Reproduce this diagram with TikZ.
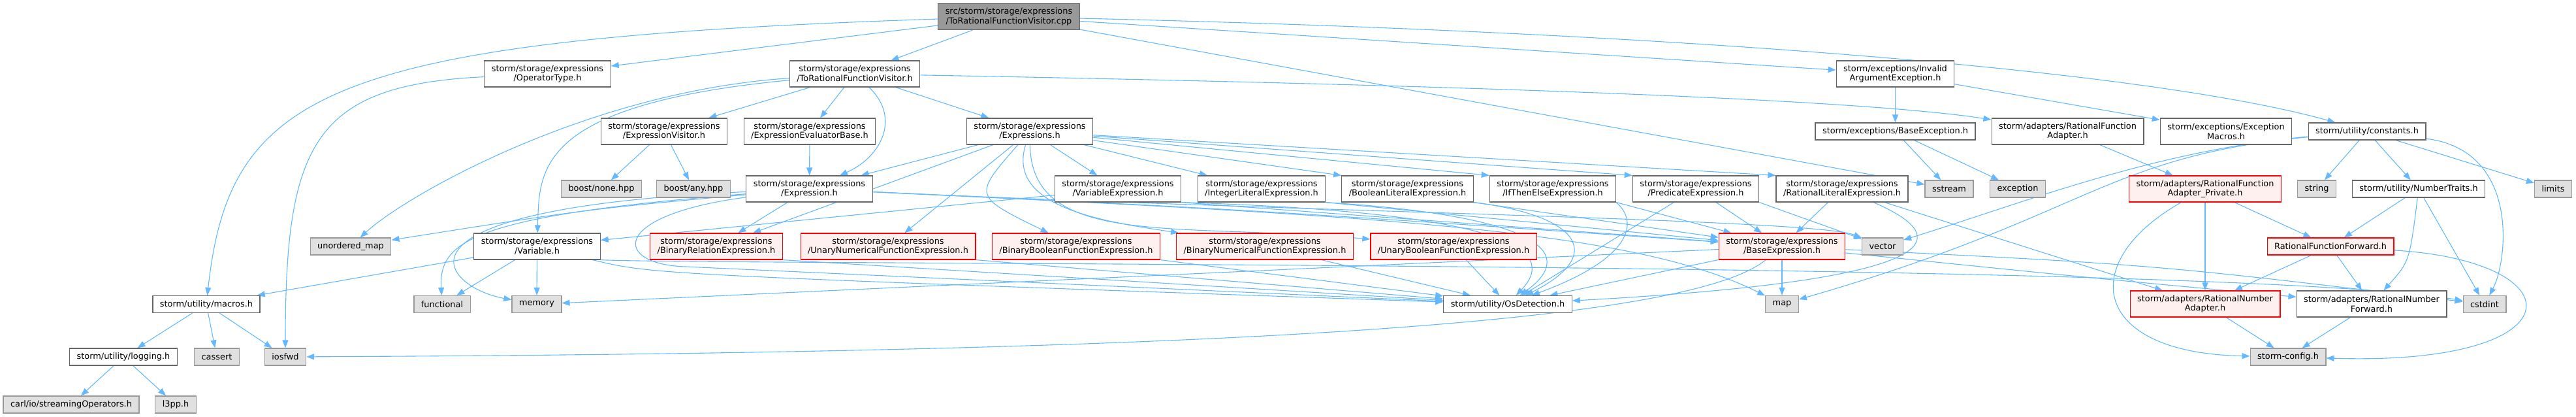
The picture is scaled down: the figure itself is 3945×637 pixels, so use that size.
\documentclass[tikz,border=0pt]{standalone}
\usepackage{fontspec}
\newfontfamily\dvs{DejaVu Sans}
\usepackage{xcolor}
\usetikzlibrary{arrows.meta, backgrounds}
\definecolor{edgeblue}{HTML}{63B8FF}
\definecolor{hdrline}{HTML}{666666}
\definecolor{sysfill}{HTML}{E0E0E0}
\definecolor{sysline}{HTML}{999999}
\definecolor{truncfill}{HTML}{FFF0F0}
\definecolor{rootfill}{HTML}{999999}

\begin{document}
\begin{tikzpicture}[x=1pt, y=-1pt,
    hdr/.style={draw=hdrline, fill=white, line width=1.2pt, inner xsep=11pt, inner ysep=0pt,
        minimum height=40pt, align=center, font={\dvs\fontsize{12.9pt}{14.7pt}\selectfont}},
    one/.style={minimum height=26pt},
    sys/.style={hdr, one, draw=sysline, fill=sysfill},
    trunc/.style={hdr, draw=red, fill=truncfill},
    rootfile/.style={hdr, draw=hdrline, fill=rootfill},
    dep/.style={draw=edgeblue, line width=1.1pt, -{Triangle[length=12pt, width=9pt]}}]
    \useasboundingbox (0,0) rectangle (3945,637);

    % source file
    \node[rootfile] (root) at (1545,25.5) {src/storm/storage/expressions\\/ToRationalFunctionVisitor.cpp};

    % first level
    \node[hdr] (opType) at (838.5,113) {storm/storage/expressions\\/OperatorType.h};
    \node[hdr] (rfVisitor) at (1309,113) {storm/storage/expressions\\/ToRationalFunctionVisitor.h};
    \node[hdr] (invArg) at (2902.5,113) {storm/exceptions/Invalid\\ArgumentException.h};

    % second level
    \node[hdr] (exprVisitor) at (1017,201) {storm/storage/expressions\\/ExpressionVisitor.h};
    \node[hdr] (evalBase) at (1240,201) {storm/storage/expressions\\/ExpressionEvaluatorBase.h};
    \node[hdr] (exprs) at (1577,201) {storm/storage/expressions\\/Expressions.h};
    \node[hdr, one] (baseExc) at (2902.5,201) {storm/exceptions/BaseException.h};
    \node[hdr] (rfAdapter) at (3166.5,201) {storm/adapters/RationalFunction\\Adapter.h};
    \node[hdr] (excMacros) at (3409,201) {storm/exceptions/Exception\\Macros.h};
    \node[hdr, one] (constants) at (3625,201) {storm/utility/constants.h};

    % third level
    \node[sys] (boostNone) at (921,289) {boost/none.hpp};
    \node[sys] (boostAny) at (1062,289) {boost/any.hpp};
    \node[hdr] (expr) at (1239.5,289) {storm/storage/expressions\\/Expression.h};
    \node[hdr] (varExpr) at (1712,289) {storm/storage/expressions\\/VariableExpression.h};
    \node[hdr] (intLit) at (1932,289) {storm/storage/expressions\\/IntegerLiteralExpression.h};
    \node[hdr] (boolLit) at (2155.5,289) {storm/storage/expressions\\/BooleanLiteralExpression.h};
    \node[hdr] (iteExpr) at (2378,289) {storm/storage/expressions\\/IfThenElseExpression.h};
    \node[hdr] (predExpr) at (2597,289) {storm/storage/expressions\\/PredicateExpression.h};
    \node[hdr] (ratLit) at (2821,289) {storm/storage/expressions\\/RationalLiteralExpression.h};
    \node[sys] (sstream) at (2985,289) {sstream};
    \node[sys] (exception) at (3090,289) {exception};
    \node[trunc] (rfaPrivate) at (3377,289) {storm/adapters/RationalFunction\\Adapter\_Private.h};
    \node[sys] (string) at (3548,289) {string};
    \node[hdr, one] (numTraits) at (3704,289) {storm/utility/NumberTraits.h};
    \node[sys] (limits) at (3910,289) {limits};

    % fourth level
    \node[sys] (umap) at (537,377) {unordered\_map};
    \node[hdr] (variable) at (822.5,377) {storm/storage/expressions\\/Variable.h};
    \node[trunc] (binRel) at (1097,377) {storm/storage/expressions\\/BinaryRelationExpression.h};
    \node[trunc] (unNum) at (1360,377) {storm/storage/expressions\\/UnaryNumericalFunctionExpression.h};
    \node[trunc] (binBool) at (1648,377) {storm/storage/expressions\\/BinaryBooleanFunctionExpression.h};
    \node[trunc] (binNum) at (1937,377) {storm/storage/expressions\\/BinaryNumericalFunctionExpression.h};
    \node[trunc] (unBool) at (2226,377) {storm/storage/expressions\\/UnaryBooleanFunctionExpression.h};
    \node[trunc] (baseExpr) at (2729,377) {storm/storage/expressions\\/BaseExpression.h};
    \node[sys] (vector) at (2883,377) {vector};
    \node[trunc, one] (rfForward) at (3569,377) {RationalFunctionForward.h};

    % fifth level
    \node[hdr, one] (macros) at (316,465.5) {storm/utility/macros.h};
    \node[sys] (functional) at (677,465.5) {functional};
    \node[sys] (memory) at (822,465.5) {memory};
    \node[hdr, one] (osDet) at (2309,465.5) {storm/utility/OsDetection.h};
    \node[sys] (map) at (2729,465.5) {map};
    \node[trunc] (rnAdapter) at (3377,465) {storm/adapters/RationalNumber\\Adapter.h};
    \node[hdr] (rnForward) at (3632,465) {storm/adapters/RationalNumber\\Forward.h};
    \node[sys] (cstdint) at (3805,465.5) {cstdint};

    % bottom
    \node[hdr, one] (logging) at (189,546) {storm/utility/logging.h};
    \node[sys] (cassert) at (332,546) {cassert};
    \node[sys] (iosfwd) at (437,546) {iosfwd};
    \node[sys] (config) at (3504,546) {storm-config.h};
    \node[sys] (carl) at (109,619) {carl/io/streamingOperators.h};
    \node[sys] (lpp) at (269,619) {l3pp.h};

    \begin{scope}[on background layer]
        % source file
        \draw[dep] (root) -- (opType);
        \draw[dep] (root) -- (rfVisitor);
        \draw[dep] (root) .. controls (500,60) and (352,140) .. (macros);
        \draw[dep] (root) -- (invArg);
        \draw[dep] (root) .. controls (2600,50) and (3300,110) .. (constants);
        \draw[dep] (root) -- (sstream);

        % OperatorType.h
        \draw[dep] (opType) .. controls (480,130) and (437,220) .. (iosfwd);

        % ToRationalFunctionVisitor.h
        \draw[dep] (rfVisitor) .. controls (900,140) and (620,300) .. (umap);
        \draw[dep] (rfVisitor) .. controls (820,160) and (826,260) .. (variable);
        \draw[dep] (rfVisitor) -- (exprVisitor);
        \draw[dep] (rfVisitor) -- (evalBase);
        \draw[dep] (rfVisitor) .. controls (1380,180) and (1350,240) .. (expr);
        \draw[dep] (rfVisitor) -- (exprs);
        \draw[dep] (rfVisitor) .. controls (2500,135) and (2900,160) .. (rfAdapter);

        \draw[dep] (exprVisitor) -- (boostNone);
        \draw[dep] (exprVisitor) -- (boostAny);
        \draw[dep] (evalBase) -- (expr);

        % Expressions.h
        \draw[dep] (exprs) -- (expr);
        \draw[dep] (exprs) -- (varExpr);
        \draw[dep] (exprs) -- (intLit);
        \draw[dep] (exprs) -- (boolLit.north west);
        \draw[dep] (exprs) -- (iteExpr.north west);
        \draw[dep] (exprs) -- (predExpr.north west);
        \draw[dep] (exprs) -- (ratLit.north west);
        \draw[dep] (exprs) -- (binRel);
        \draw[dep] (exprs) -- (unNum);
        \draw[dep] (exprs) .. controls (1490,300) .. (binBool);
        \draw[dep] (exprs) .. controls (1540,320) and (1700,340) .. (binNum);
        \draw[dep] (exprs) .. controls (1580,380) and (1800,340) .. (unBool);

        % Expression.h
        \draw[dep] (expr) .. controls (900,320) .. (umap);
        \draw[dep] (expr) .. controls (720,330) and (672,370) .. (functional);
        \draw[dep] (expr) .. controls (560,320) and (680,440) .. (memory);
        \draw[dep] (expr) -- (binRel);
        \draw[dep] (expr) .. controls (930,330) and (940,405) .. (1050,408) -- (osDet);
        \draw[dep] (expr) .. controls (1900,320) .. (baseExpr);
        \draw[dep] (expr) .. controls (2100,330) and (2500,350) .. (map);
        \draw[dep] (expr) .. controls (2000,325) and (2780,335) .. (vector);

        % Variable.h
        \draw[dep] (variable) -- (macros);
        \draw[dep] (variable) -- (functional);
        \draw[dep] (variable) -- (memory);
        \draw[dep] (variable) .. controls (1000,420) .. (osDet);
        \draw[dep] (variable.south east) .. controls (1100,406) and (3400,398) .. (cstdint);

        % literal and variable expressions
        \draw[dep] (varExpr) -- (variable);
        \draw[dep] (varExpr.south east) -- (baseExpr);
        \draw[dep] (varExpr.south east) .. controls (2300,325) and (2390,380) .. (osDet);
        \draw[dep] (intLit.south east) -- (baseExpr);
        \draw[dep] (intLit.south east) .. controls (2350,330) and (2420,385) .. (osDet);
        \draw[dep] (boolLit.south east) -- (baseExpr);
        \draw[dep] (boolLit.south east) .. controls (2420,330) and (2460,390) .. (osDet);
        \draw[dep] (iteExpr.south east) -- (baseExpr);
        \draw[dep] (iteExpr.south east) .. controls (2510,340) and (2500,395) .. (osDet);
        \draw[dep] (predExpr) -- (baseExpr);
        \draw[dep] (predExpr) -- (osDet);
        \draw[dep] (predExpr.south east) -- (vector);
        \draw[dep] (ratLit) -- (baseExpr);
        \draw[dep] (ratLit) .. controls (3010,370) and (2960,430) .. (osDet);
        \draw[dep] (ratLit) -- (rnAdapter);

        % function expressions
        \draw[dep] (binRel.south east) -- (osDet);
        \draw[dep] (unNum.south east) -- (osDet);
        \draw[dep] (binBool.south east) -- (osDet);
        \draw[dep] (binNum) -- (osDet);
        \draw[dep] (unBool) -- (osDet);

        % BaseExpression.h
        \draw[dep] (baseExpr) -- (map);
        \draw[dep] (baseExpr) -- (memory);
        \draw[dep] (baseExpr) .. controls (2580,500) and (1800,540) .. (iosfwd);
        \draw[dep] (baseExpr) -- (osDet);
        \draw[dep] (baseExpr) .. controls (3300,405) .. (cstdint);
        \draw[dep] (baseExpr) .. controls (3200,425) .. (rnForward);

        % constants.h
        \draw[dep] (constants) -- (string);
        \draw[dep] (constants) -- (numTraits);
        \draw[dep] (constants) -- (limits);
        \draw[dep] (constants) .. controls (3860,230) and (3840,400) .. (cstdint);
        \draw[dep] (constants) .. controls (3300,230) and (3100,310) .. (vector);
        \draw[dep] (constants) .. controls (3220,240) and (3200,330) .. (map);

        \draw[dep] (numTraits) -- (rfForward);
        \draw[dep] (numTraits) .. controls (3690,400) .. (rnForward);
        \draw[dep] (numTraits) -- (cstdint);

        % rational numbers and functions
        \draw[dep] (rfAdapter) -- (rfaPrivate);
        \draw[dep] (rfaPrivate) -- (rnAdapter);
        \draw[dep] (rfaPrivate) -- (rfForward);
        \draw[dep] (rfaPrivate) .. controls (3180,400) and (3200,540) .. (config);
        \draw[dep] (rfForward) -- (rnAdapter);
        \draw[dep] (rfForward) -- (rnForward);
        \draw[dep] (rfForward) .. controls (3950,400) and (3950,560) .. (config);
        \draw[dep] (rnAdapter) -- (config);
        \draw[dep] (rnForward) -- (config);

        % exceptions
        \draw[dep] (invArg) -- (baseExc);
        \draw[dep] (invArg) -- (excMacros);
        \draw[dep] (baseExc) -- (sstream);
        \draw[dep] (baseExc) -- (exception);

        % macros.h
        \draw[dep] (macros) -- (logging);
        \draw[dep] (macros) -- (cassert);
        \draw[dep] (macros) -- (iosfwd);
        \draw[dep] (logging) -- (carl);
        \draw[dep] (logging) -- (lpp);
    \end{scope}
\end{tikzpicture}
\end{document}
